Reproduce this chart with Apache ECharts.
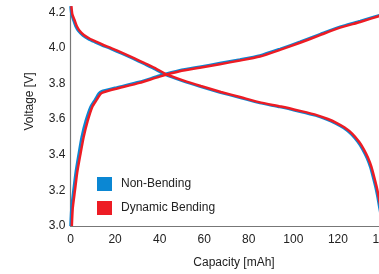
<!DOCTYPE html>
<html>
<head>
<meta charset="utf-8">
<script src="https://cdn.jsdelivr.net/npm/echarts@6/dist/echarts.min.js"></script>
<style>html,body{margin:0;padding:0;background:#fff}#c{width:379px;height:274px}</style>
</head>
<body>
<div id="c"></div>
<script>
const seriesNames = ['Non-Bending', 'Dynamic Bending'];
const xTicks = [0, 20, 40, 60, 80, 100, 120, 140];
const yTicks = [3.0, 3.2, 3.4, 3.6, 3.8, 4.0, 4.2];

const blueCharge = [
  [0, 3.00], [0.4, 3.10], [1.3, 3.20], [2.3, 3.30], [3.6, 3.40], [5.0, 3.50], [6.8, 3.59],
  [9.0, 3.67], [11, 3.71], [12.7, 3.745], [14, 3.757], [20, 3.776], [31, 3.81], [40, 3.845],
  [49, 3.875], [58, 3.895], [67, 3.915], [76, 3.935], [85, 3.958], [94, 3.995], [103, 4.035],
  [112, 4.078], [121, 4.12], [130, 4.152], [140, 4.19]
];
const blueDischarge = [
  [0, 4.235], [0.4, 4.19], [1.3, 4.155], [2.3, 4.12], [3.5, 4.095], [5.5, 4.07], [8, 4.05],
  [11, 4.032], [14, 4.015], [18, 3.995], [23, 3.968], [28, 3.94], [33, 3.91], [38, 3.88],
  [42.4, 3.85], [50, 3.815], [58, 3.783], [67, 3.75], [76, 3.72], [85, 3.69], [94, 3.668],
  [103, 3.642], [110, 3.62], [115, 3.598], [119, 3.575], [122.5, 3.55], [126, 3.515],
  [129, 3.47], [131, 3.43], [133, 3.38], [134.5, 3.33], [135.8, 3.27], [137, 3.21],
  [137.8, 3.16], [138.5, 3.11], [139.2, 3.06], [140, 3.0]
];
const redCharge = [
  [0.6, 3.00], [1.0, 3.10], [2.0, 3.20], [3.0, 3.30], [4.4, 3.40], [5.9, 3.50], [7.7, 3.59],
  [9.8, 3.67], [11.8, 3.71], [13.5, 3.742], [14.8, 3.751], [20, 3.769], [31, 3.804], [40, 3.839],
  [49, 3.869], [58, 3.889], [67, 3.909], [76, 3.929], [85, 3.952], [94, 3.989], [103, 4.029],
  [112, 4.072], [121, 4.114], [130, 4.146], [140, 4.185]
];
const redDischarge = [
  [0.4, 4.235], [0.8, 4.19], [1.8, 4.157], [2.8, 4.123], [4.0, 4.098], [6.0, 4.073], [8.5, 4.053],
  [11.5, 4.035], [14.5, 4.018], [18.5, 3.998], [23.5, 3.971], [28.5, 3.943], [33.5, 3.913],
  [38.5, 3.883], [42.9, 3.853], [50.5, 3.818], [58.5, 3.786], [67.5, 3.753], [76.5, 3.723],
  [85.5, 3.693], [94.5, 3.671], [103.5, 3.645], [110.5, 3.623], [115.5, 3.601], [119.5, 3.578],
  [123, 3.553], [126.5, 3.518], [129.5, 3.473], [131.5, 3.433], [133.5, 3.383], [135, 3.333],
  [136.3, 3.273], [137.5, 3.213], [138.3, 3.163], [139, 3.113], [139.7, 3.063], [140.5, 3.0]
];

const BLUE = '#0b87d3';
const RED = '#ed1c24';
const FONT = 'Liberation Sans, Arial, sans-serif';

function lineSeries(name, data, color) {
  return {
    name: name, type: 'line', data: data, showSymbol: false, symbol: 'none',
    smooth: 0.2, clip: false,
    lineStyle: { color: color, width: 2.5 }, itemStyle: { color: color }
  };
}

const chart = echarts.init(document.getElementById('c'), null, { renderer: 'canvas' });
chart.setOption({
  animation: false,
  backgroundColor: '#fff',
  textStyle: { fontFamily: FONT },
  grid: { left: 70.5, right: -3.5, top: 7, bottom: 48, containLabel: false, outerBoundsMode: 'none' },
  legend: {
    orient: 'vertical', left: 92, top: 172, icon: 'rect',
    itemWidth: 15, itemHeight: 14, itemGap: 10,
    data: seriesNames,
    textStyle: { fontSize: 12, color: '#222', fontFamily: FONT, padding: [0, 0, 0, 4] }
  },
  xAxis: {
    type: 'value', min: xTicks[0], max: xTicks[xTicks.length - 1], interval: 20,
    name: 'Capacity [mAh]', nameLocation: 'middle', nameGap: 31,
    nameTextStyle: { fontSize: 12, color: '#222', fontFamily: FONT, padding: [0, 0, 0, 15] },
    axisLine: { lineStyle: { color: '#777', width: 1.2 } },
    axisTick: { show: false }, splitLine: { show: false },
    axisLabel: { fontSize: 12, color: '#222', margin: 8, fontFamily: FONT }
  },
  yAxis: {
    type: 'value', min: yTicks[0], max: 4.23, interval: 0.2,
    name: 'Voltage [V]', nameLocation: 'middle', nameGap: 35, nameRotate: 90,
    nameTextStyle: { fontSize: 12, color: '#222', fontFamily: FONT, padding: [0, 0, 0, 30] },
    axisLine: { show: true, lineStyle: { color: '#777', width: 1.2 } },
    axisTick: { show: false }, splitLine: { show: false },
    axisLabel: {
      fontSize: 12, color: '#222', margin: 5, fontFamily: FONT, showMaxLabel: false,
      formatter: function (v) { return yTicks.some(t => Math.abs(t - v) < 1e-6) ? v.toFixed(1) : ''; }
    }
  },
  series: [
    lineSeries(seriesNames[0], blueCharge, BLUE),
    lineSeries(seriesNames[0], blueDischarge, BLUE),
    lineSeries(seriesNames[1], redCharge, RED),
    lineSeries(seriesNames[1], redDischarge, RED)
  ]
});
</script>
</body>
</html>
